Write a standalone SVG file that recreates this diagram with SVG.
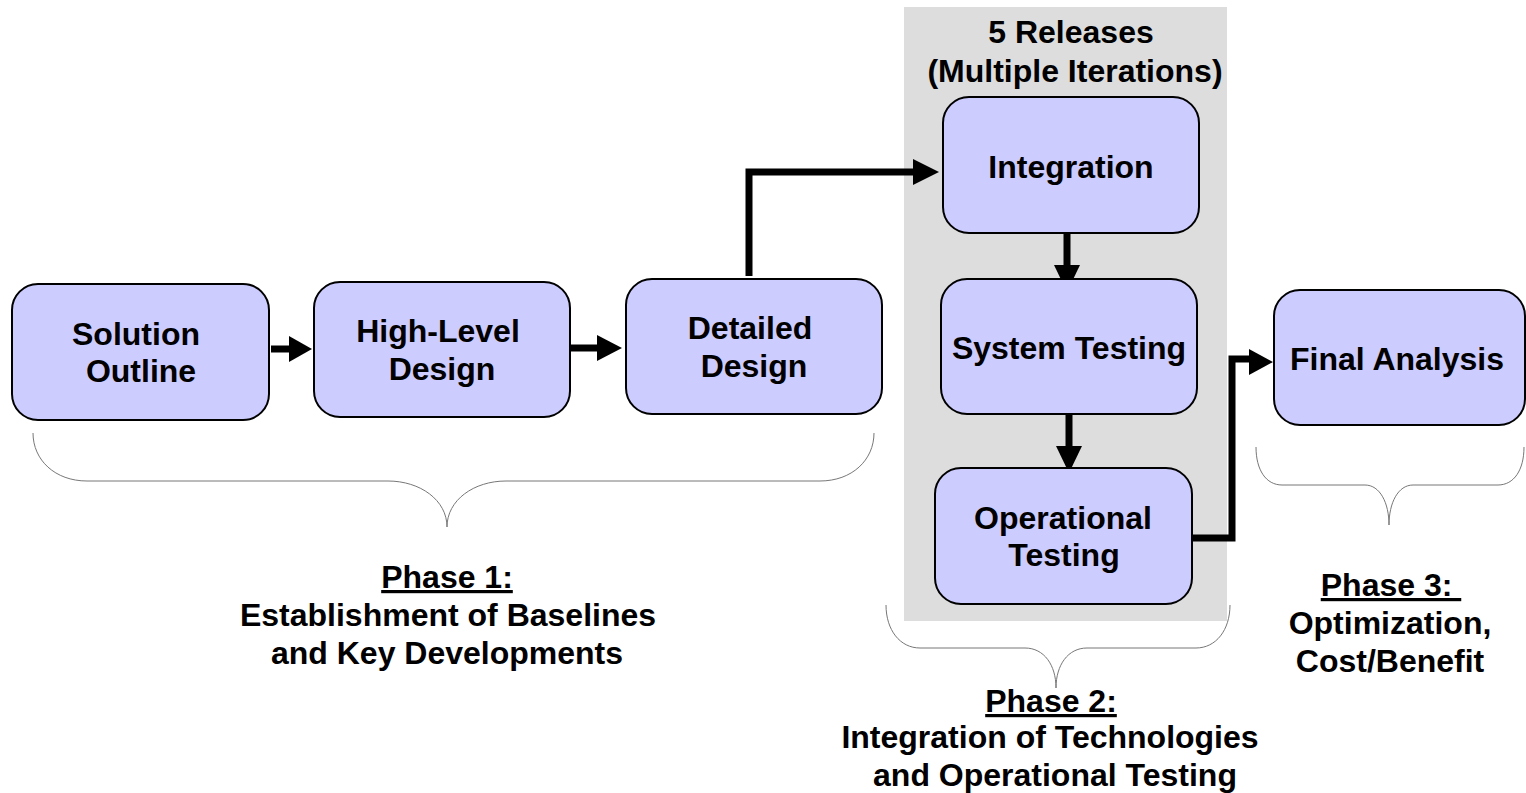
<svg xmlns="http://www.w3.org/2000/svg" width="1526" height="793" viewBox="0 0 1526 793">
<defs>
<style>
.node rect{fill:#ccccff;stroke:#000;stroke-width:2}
text{font-family:"Liberation Sans",Arial,sans-serif;font-weight:bold;font-size:32px;fill:#000;text-anchor:middle}
.conn{fill:none;stroke:#000;stroke-width:7}
.brace{fill:none;stroke:#777;stroke-width:1}
.ul{text-decoration:underline}
</style>
</defs>
<rect x="904" y="7" width="323" height="614" fill="#dddddd"/>
<text x="1071" y="43">5 Releases</text>
<text x="1075" y="82">(Multiple Iterations)</text>

<g id="connectors">
<path class="conn" d="M271,349 H292"/>
<path d="M289,336 L312,349 L289,362 Z"/>
<path class="conn" d="M571,348 H600"/>
<path d="M597,335 L622,348 L597,361 Z"/>
<path class="conn" d="M749,276 V172 H916"/>
<path d="M913,159 L939,172 L913,185 Z"/>
<path class="conn" d="M1067,227 V268"/>
<path d="M1054,265 L1067,292 L1080,265 Z"/>
<path class="conn" d="M1069,407 V450"/>
<path d="M1056,446 L1069,473 L1082,446 Z"/>
<path class="conn" d="M1190,538 H1232 V359 H1253"/>
<path d="M1249,349 L1273,362 L1249,375 Z"/>
</g>

<g id="solution-outline" class="node">
<rect x="12" y="284" width="257" height="136" rx="26"/>
<text x="136" y="345">Solution</text>
<text x="141" y="382">Outline</text>
</g>
<g id="high-level-design" class="node">
<rect x="314" y="282" width="256" height="135" rx="26"/>
<text x="438" y="342">High-Level</text>
<text x="442" y="380">Design</text>
</g>
<g id="detailed-design" class="node">
<rect x="626" y="279" width="256" height="135" rx="26"/>
<text x="750" y="339">Detailed</text>
<text x="754" y="377">Design</text>
</g>
<g id="integration" class="node">
<rect x="943" y="97" width="256" height="136" rx="26"/>
<text x="1071" y="178">Integration</text>
</g>
<g id="system-testing" class="node">
<rect x="941" y="279" width="256" height="135" rx="26"/>
<text x="1069" y="359">System Testing</text>
</g>
<g id="operational-testing" class="node">
<rect x="935" y="468" width="257" height="136" rx="26"/>
<text x="1063" y="529">Operational</text>
<text x="1064" y="566">Testing</text>
</g>
<g id="final-analysis" class="node">
<rect x="1274" y="290" width="251" height="135" rx="26"/>
<text x="1397" y="370">Final Analysis</text>
</g>

<g id="braces">
<path class="brace" d="M33,433 C33,460 55,481 87,481 H388 C420,481 447,500 447,527 C447,500 474,481 506,481 H820 C852,481 874,460 874,433"/>
<path class="brace" d="M886,605 C886,630 900,648 920,648 H1025 C1044,648 1056,665 1056,688 C1056,665 1068,648 1087,648 H1196 C1216,648 1230,630 1230,605"/>
<path class="brace" d="M1256,447 C1256,470 1266,485 1282,485 H1365 C1380,485 1389,503 1389,525 C1389,503 1398,485 1413,485 H1498 C1514,485 1524,470 1524,447"/>
</g>

<g id="phase1">
<text x="447" y="588" class="ul">Phase 1:</text>
<text x="448" y="626">Establishment of Baselines</text>
<text x="447" y="664">and Key Developments</text>
</g>
<g id="phase2">
<text x="1051" y="712" class="ul">Phase 2:</text>
<text x="1050" y="748">Integration of Technologies</text>
<text x="1055" y="786">and Operational Testing</text>
</g>
<g id="phase3">
<text x="1391" y="596" class="ul" xml:space="preserve">Phase 3: </text>
<text x="1390" y="634">Optimization,</text>
<text x="1390" y="672">Cost/Benefit</text>
</g>
</svg>
